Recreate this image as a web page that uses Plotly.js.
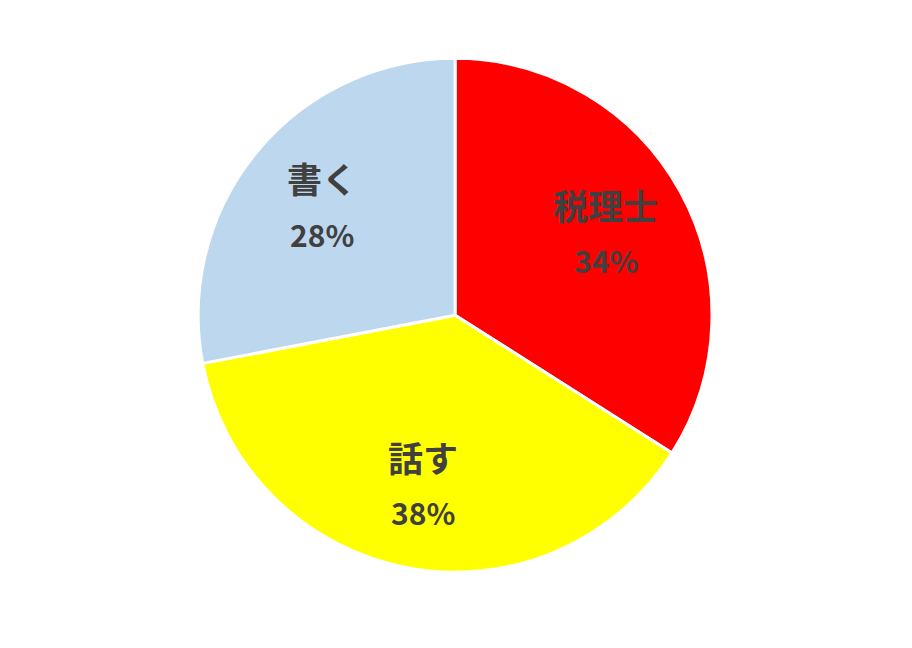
<!DOCTYPE html>
<html>
<head>
<meta charset="utf-8">
<script src="https://cdn.plot.ly/plotly-3.0.1.min.js"></script>
<style>
  html, body { margin: 0; padding: 0; background: #fff; }
  #plotDiv { width: 912px; height: 648px; }
</style>
</head>
<body>
<div id="plotDiv"></div>
<script>
var labels = ["税理士", "話す", "書く"];
var values = [34, 38, 28];
var colors = ["#FF0000", "#FFFF00", "#BDD7EE"];

var W = 912, H = 648;
var domX = [0.217, 0.781], domY = [0.117, 0.910];
var cx = (domX[0] + domX[1]) / 2 * W;
var cy = (1 - (domY[0] + domY[1]) / 2) * H;
var R = (domY[1] - domY[0]) * H / 2;

var data = [
  {
    type: "pie",
    labels: labels,
    values: values,
    sort: false,
    direction: "clockwise",
    rotation: 0,
    marker: { colors: colors, line: { color: "#FFFFFF", width: 3 } },
    textinfo: "none",
    hoverinfo: "label+percent",
    domain: { x: domX, y: domY }
  }
];

// data labels placed at each slice's mid angle, like the spreadsheet chart
var total = values.reduce(function (a, b) { return a + b; }, 0);
var annotations = [];
var cum = 0;
values.forEach(function (v, i) {
  var mid = (cum + v / 2) / total * 2 * Math.PI;
  cum += v;
  var px = cx + 0.67 * R * Math.sin(mid);
  var py = cy - 0.67 * R * Math.cos(mid);
  var pct = Math.round(v / total * 100) + "%";
  var common = {
    xref: "paper", yref: "paper",
    x: px / W, y: 1 - py / H,
    showarrow: false,
    xanchor: "center", yanchor: "middle"
  };
  annotations.push(Object.assign({}, common, {
    text: "<b>" + labels[i] + "</b>",
    yshift: 28,
    font: { family: "Noto Sans CJK JP", size: 35, color: "#404040" }
  }));
  annotations.push(Object.assign({}, common, {
    text: "<b>" + pct + "</b>",
    yshift: -28,
    font: { family: "Noto Sans CJK JP", size: 30, color: "#404040" }
  }));
});

var layout = {
  width: W,
  height: H,
  margin: { t: 0, b: 0, l: 0, r: 0 },
  showlegend: false,
  paper_bgcolor: "#FFFFFF",
  font: { family: "Noto Sans CJK JP" },
  annotations: annotations
};

Plotly.newPlot("plotDiv", data, layout, { displayModeBar: false });
</script>
</body>
</html>
